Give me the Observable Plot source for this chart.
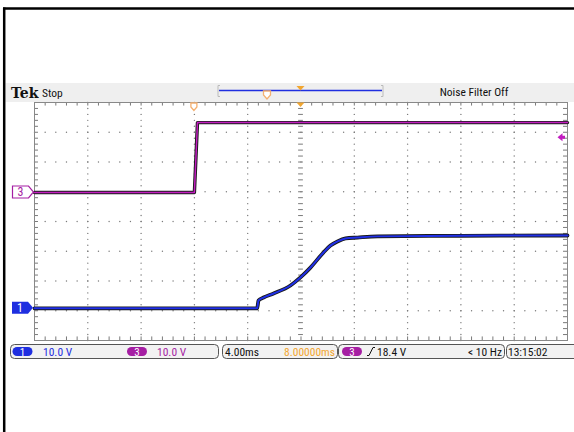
<!DOCTYPE html>
<html><head><meta charset="utf-8">
<script src="https://cdn.jsdelivr.net/npm/d3@7"></script>
<script src="https://cdn.jsdelivr.net/npm/@observablehq/plot@0.6"></script>
<style>
body{margin:0;background:#fff}
#chart svg{display:block}
</style>
</head><body><div id="chart"></div>
<script>
// ---- data (time in ms relative to trigger, volts) ----
const ch1Time  = [-12, 4.71, 4.81, 5.19, 5.94, 7.21, 7.96, 8.71, 9.69, 10.21, 10.74, 11.34, 12.24, 13.74, 20, 28];
const ch1Volts = [0,   0,    2.65, 3.65, 5.0,  7.7,  10.4, 13.7, 18.8, 21.1,  22.5,  23.5,  23.8,  24.2,  24.4, 24.5];
const ch3Time  = [-12, 0.0, 0.23, 28];
const ch3Volts = [0,   0,   23.5, 23.5];
const voltsPerDiv = 10;          // both channels 10.0 V/div
const msPerDiv = 4;              // 4.00 ms/div
const horizDelay = 8;            // 8.00000 ms
const ch1OffsetDiv = -2.92;      // ground marker position (divisions)
const ch3OffsetDiv = 0.975;
const trigLevel = 18.4;          // V on ch3
const headerLabels = ["Tek", "Stop", "Noise Filter Off"];
const statusLabels = ["10.0 V", "10.0 V", "4.00ms", "8.00000ms", "18.4 V", "< 10 Hz", "13:15:02"];

const xDomain = [horizDelay - 5*msPerDiv, horizDelay + 5*msPerDiv];
const yDomain = [-4, 4];

const ch1 = ch1Time.map((t,i)=>({t, d: ch1Volts[i]/voltsPerDiv + ch1OffsetDiv}));
const ch3 = ch3Time.map((t,i)=>({t, d: ch3Volts[i]/voltsPerDiv + ch3OffsetDiv}));

const minorX = d3.range(0, 51).map(i => xDomain[0] + i*msPerDiv/5);
const majorX = d3.range(0, 11).map(i => xDomain[0] + i*msPerDiv);
const minorY = d3.range(0, 41).map(i => -4 + i*0.2);
const majorY = d3.range(-4, 5);

const dotsV = [], dotsH = [];
majorX.slice(1,-1).forEach(x => { if (x !== horizDelay) minorY.forEach(y => dotsV.push({x,y})); });
majorY.slice(1,-1).forEach(y => minorX.forEach(x => dotsH.push({x,y})));

const gridCol = "#7a7a7a";
const plot = Plot.plot({
  width: 574, height: 432,
  marginLeft: 34, marginRight: 7, marginTop: 102, marginBottom: 92,
  x: {domain: xDomain, axis: null},
  y: {domain: yDomain, axis: null},
  style: {background: "transparent", overflow: "visible"},
  marks: [
    Plot.dot(dotsV, {x:"x", y:"y", r:0.7, fill:gridCol, stroke:null}),
    Plot.dot(dotsH, {x:"x", y:"y", r:0.7, fill:gridCol, stroke:null}),
    Plot.ruleY(minorY, {y: d=>d, x1: horizDelay-0.18, x2: horizDelay+0.18, stroke:gridCol, strokeWidth:1}),
    Plot.ruleX(minorX, {x: d=>d, y1: 4, y2: 3.88, stroke:gridCol}),
    Plot.ruleX(minorX, {x: d=>d, y1: -4, y2: -3.88, stroke:gridCol}),
    Plot.ruleY(minorY, {y: d=>d, x1: xDomain[0], x2: xDomain[0]+0.3, stroke:gridCol}),
    Plot.ruleY(minorY, {y: d=>d, x1: xDomain[1], x2: xDomain[1]-0.3, stroke:gridCol}),
    Plot.frame({stroke:"#888"}),
    Plot.line(ch3, {x:"t", y:"d", stroke:"#1a1a1a", strokeWidth:3.4}),
    Plot.line(ch3, {x:"t", y:"d", stroke:"#c21cc0", strokeWidth:1.5}),
    Plot.line(ch1, {x:"t", y:"d", stroke:"#1a1a1a", strokeWidth:3.8, curve:"monotone-x"}),
    Plot.line(ch1, {x:"t", y:"d", stroke:"#2030e8", strokeWidth:2, curve:"monotone-x"})
  ]
});
document.getElementById("chart").appendChild(plot);

// ---- scope chrome ----
const X = plot.scale("x"), Y = plot.scale("y");
const svg = d3.select(plot);
const narrow = "'Liberation Sans Narrow', 'Roboto Condensed', Roboto, sans-serif";
const ORANGE = "#f2a630", PURPLE = "#a51ea3", BLUE = "#1f2fe0";

svg.append("line").attr("x1",3).attr("x2",574).attr("y1",8.5).attr("y2",8.5).attr("stroke","#000").attr("stroke-width",2.5);
svg.append("line").attr("x1",4.2).attr("x2",4.2).attr("y1",7.5).attr("y2",432).attr("stroke","#000").attr("stroke-width",2.5);

const hdr = svg.insert("g", ":first-child");
hdr.append("rect").attr("x",5.5).attr("y",83).attr("width",569).attr("height",19).attr("fill","#efefef");
const g = svg.append("g").attr("text-anchor","start");
g.append("text").attr("x",11).attr("y",97.5).text(headerLabels[0])
  .attr("font-family","'DejaVu Serif', 'Liberation Serif', serif").attr("font-weight","bold").attr("font-size",14).attr("fill","#111");
g.append("text").attr("x",42).attr("y",97).text(headerLabels[1])
  .attr("font-family",narrow).attr("font-size",11.5).attr("fill","#111");
g.append("text").attr("x",474).attr("y",96).attr("text-anchor","middle").text(headerLabels[2])
  .attr("font-family",narrow).attr("font-size",11.5).attr("fill","#111");
g.append("path").attr("d","M220,85.5 h-2 v11 h2 M381,85.5 h2 v11 h-2").attr("fill","none").attr("stroke","#bbb");
g.append("line").attr("x1",219).attr("x2",382).attr("y1",90.5).attr("y2",90.5).attr("stroke",BLUE).attr("stroke-width",1.4);
const xc = X.apply(horizDelay), xt = X.apply(0);
g.append("path").attr("d",`M${xc-4},86 h8 l-4,4.5 z`).attr("fill",ORANGE);
g.append("path").attr("d",`M263.5,91 h7 v4 l-3.5,4 l-3.5,-4 z`).attr("fill","#fff").attr("stroke","#f4b070").attr("stroke-width",1.3);
g.append("path").attr("d",`M${xc-4},102.5 h8 l-4,4.5 z`).attr("fill",ORANGE);
g.append("path").attr("d",`M${xt-3},103 h6 v4 l-3,3.5 l-3,-3.5 z`).attr("fill","#fff").attr("stroke","#f4b070").attr("stroke-width",1.3);

const y3 = Y.apply(ch3OffsetDiv), y1 = Y.apply(ch1OffsetDiv);
g.append("path").attr("d",`M12.5,${y3-6} h16 l5,6 l-5,6 h-16 z`).attr("fill","#fff").attr("stroke",PURPLE).attr("stroke-width",1.2);
g.append("text").attr("x",20.5).attr("y",y3+4.5).attr("text-anchor","middle").text("3")
  .attr("font-family",narrow).attr("font-size",12).attr("fill",PURPLE);
g.append("path").attr("d",`M12,${y1-6} h16 l5,6 l-5,6 h-16 z`).attr("fill",BLUE);
g.append("text").attr("x",20).attr("y",y1+4.5).attr("text-anchor","middle").text("1")
  .attr("font-family",narrow).attr("font-size",12).attr("fill","#fff");
const yl = Y.apply(trigLevel/voltsPerDiv + ch3OffsetDiv);
g.append("path").attr("d",`M557.5,${yl} l5,-4 v2.5 h2.5 v3 h-2.5 v2.5 z`).attr("fill","#c21cc0");

// status bar
const sb = svg.append("g").attr("text-anchor","start");
const box = (x,w) => sb.append("rect").attr("x",x).attr("y",344.5).attr("width",w).attr("height",14).attr("rx",4)
  .attr("fill","#f2f2f2").attr("stroke","#555").attr("stroke-width",1);
box(10.5,208); box(222.5,115); box(338.5,166); box(506.5,80);
const badge = (x,col,lab) => {
  sb.append("rect").attr("x",x).attr("y",347).attr("width",20).attr("height",9).attr("rx",4.5).attr("fill",col);
  sb.append("text").attr("x",x+10).attr("y",355.5).attr("text-anchor","middle").text(lab)
    .attr("font-family",narrow).attr("font-size",11).attr("fill","#fff");
};
badge(12.5,BLUE,"1"); badge(127,PURPLE,"3"); badge(342,PURPLE,"3");
const st = (x,txt,col,anchor="start") => sb.append("text").attr("x",x).attr("y",356).attr("text-anchor",anchor).text(txt)
  .attr("font-family",narrow).attr("font-size",11.5).attr("fill",col);
st(43,statusLabels[0],BLUE);
st(157,statusLabels[1],PURPLE);
st(225,statusLabels[2],"#111");
st(335,statusLabels[3],ORANGE,"end");
// rising-edge symbol
sb.append("path").attr("d","M367,355.5 h2 l4,-8 h2").attr("fill","none").attr("stroke","#111").attr("stroke-width",1);
st(377,statusLabels[4],"#111");
st(502,statusLabels[5],"#111","end");
st(508,statusLabels[6],"#111");
</script>
</body></html>
